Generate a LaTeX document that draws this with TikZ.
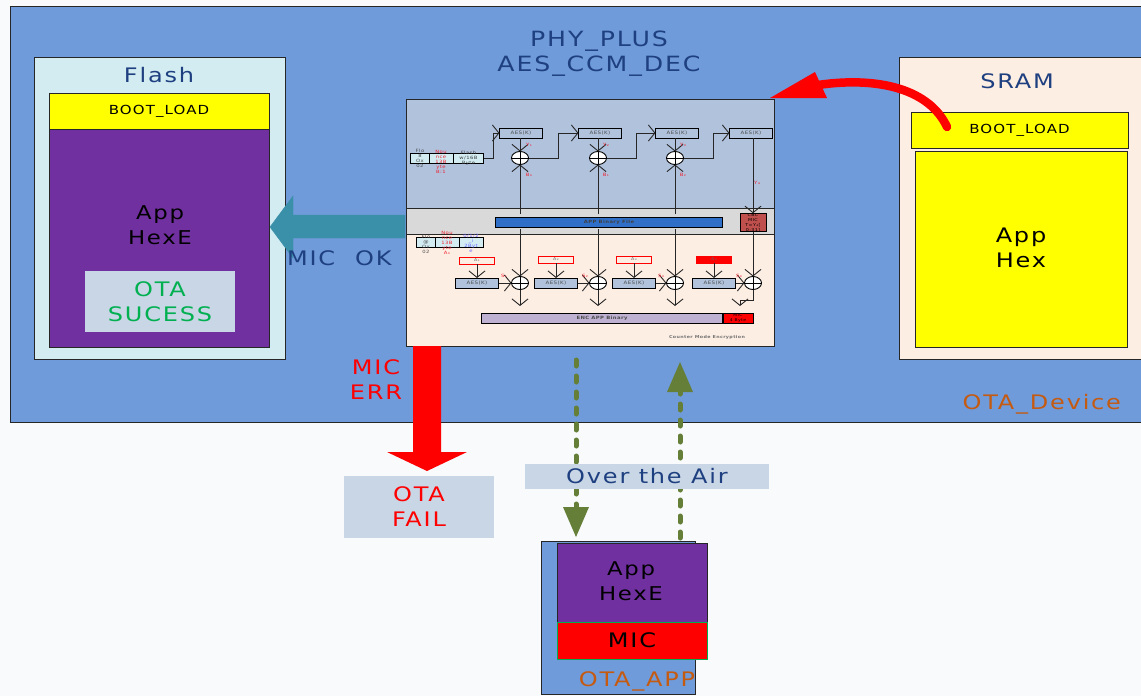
\documentclass[tikz,border=0pt]{standalone}
\usepackage{fontspec}
\setmainfont{DejaVu Sans}[LetterSpace=9,FakeStretch=1.2]
\usetikzlibrary{arrows.meta,positioning,shapes.geometric}
\definecolor{pagebg}{HTML}{F8FAFC}
\definecolor{devblue}{HTML}{6F9BDA}
\definecolor{flashbg}{HTML}{D2ECF2}
\definecolor{sram}{HTML}{FDEEE3}
\definecolor{purp}{HTML}{7030A0}
\definecolor{panel}{HTML}{B0C2DC}
\definecolor{midgrey}{HTML}{D9D9D9}
\definecolor{titleblue}{HTML}{1F4080}
\definecolor{teal}{HTML}{3A90A8}
\definecolor{okgreen}{HTML}{00B050}
\definecolor{softblue}{HTML}{C8D6E6}
\definecolor{orangetxt}{HTML}{C55A11}
\definecolor{armygreen}{HTML}{667F38}
\definecolor{appbar}{HTML}{2F6FC8}
\definecolor{micbox}{HTML}{C0504D}
\definecolor{lilac}{HTML}{BFB1D2}
\definecolor{lightcyan}{HTML}{D2ECF2}
\definecolor{redtxt}{HTML}{F02030}
\definecolor{pureyellow}{HTML}{FFFF00}
\definecolor{purered}{HTML}{FF0000}
\tikzset{
  x=1pt,y=-1pt,
  every node/.style={inner sep=0pt,outer sep=0pt,align=center},
  area/.style n args={4}{draw=black!85,line width=.8pt,fill=#1,minimum width=#2pt,minimum height=#3pt,anchor=north west,font=\fontsize{#4}{#4}\selectfont},
  plain/.style={font=\fontsize{#1}{25}\selectfont},
  aesbox/.style={draw=black,line width=1pt,fill=panel,minimum width=43pt,minimum height=10pt,font=\fontsize{4.6}{4.6}\selectfont,text=black!70},
  xorc/.style={draw=black,line width=.9pt,fill=white,ellipse,minimum width=17pt,minimum height=13pt},
  tiny/.style={font=\fontsize{4.4}{5}\selectfont},
  tinyred/.style={tiny,text=redtxt},
  flow/.style={draw=black!85,line width=.9pt,-{Straight Barb[length=6.5pt,width=16pt,line width=.9pt]}},
  flowline/.style={draw=black,line width=.8pt},
  ctr/.style={draw=purered,line width=.9pt,fill=sram,minimum width=35pt,minimum height=7pt,font=\fontsize{4}{4}\selectfont,text=black!60},
  cell/.style={draw=black,line width=.9pt,fill=lightcyan,minimum height=10pt,font=\fontsize{4}{5}\selectfont},
  dashflow/.style={draw=armygreen,line width=5pt,line cap=round,dash pattern=on 6pt off 10pt},
}
\begin{document}
\begin{tikzpicture}
\useasboundingbox (0,0) rectangle (1141,696);
\fill[pagebg] (0,0) rectangle (1141,696);

% device background
\node[area={devblue}{1131}{416}{10}] (device) at (10,6) {};
\node[plain=20,text=orangetxt,anchor=east] (devlabel) at (1121,404) {OTA\_Device};

% Flash
\node[area={flashbg}{251}{302}{10}] (flash) at (34,57) {};
\node[plain=20,text=titleblue] (flashtitle) at (159,75) {Flash};
\node[area={pureyellow}{220}{36}{12.5}] (fboot) at (49,93) {BOOT\_LOAD};
\node[area={purp}{220}{218}{10}] (fapp) at (49,129) {};
\node[plain=19] (fapptxt) at (160,225) {App\\HexE};
\node[fill=softblue,minimum width=150pt,minimum height=61pt,plain=20,text=okgreen] (otasuc) at (160,301.5) {OTA\\SUCESS};

% SRAM
\node[area={sram}{242}{302}{10}] (sramb) at (899,57) {};
\node[plain=20,text=titleblue] (sramtitle) at (1017,81) {SRAM};
\node[area={pureyellow}{217}{36}{12.5}] (sboot) at (911,112) {BOOT\_LOAD};
\node[area={pureyellow}{212}{196}{10}] (sapp) at (915,151) {};
\node[plain=20] (sapptxt) at (1021,248) {App\\Hex};

% centre title
\node[plain=21,text=titleblue] (phy) at (599,54) {PHY\_PLUS\\AES\_CCM\_DEC};

% centre panels
\node[area={panel}{368}{109}{8}] (ptop) at (406,99) {};
\node[area={midgrey}{368}{26}{8}] (pmid) at (406,208) {};
\node[area={sram}{368}{112}{8}] (pbot) at (406,234) {};

% top row
\node[cell,minimum width=19pt] (c1) at (420,158) {};
\node[cell,minimum width=24pt] (c2) at (441,158) {};
\node[cell,minimum width=30pt] (c3) at (468.5,158) {};
\node[tiny,text=black!70] at (420,158) {Flo\\8\\Ox\\02};
\node[tinyred] at (441,162) {Nou\\nce\\13B\\yte\\B:1};
\node[tiny,text=black!75] at (468.5,158) {Flash\\w/16B\\Byte};

\node[aesbox] (a1) at (521,133) {AES(K)};
\node[aesbox] (a2) at (600,133) {AES(K)};
\node[aesbox] (a3) at (677,133) {AES(K)};
\node[aesbox] (a4) at (751,133) {AES(K)};
\node[xorc] (x1) at (520,158) {};
\node[xorc] (x2) at (598,158) {};
\node[xorc] (x3) at (675,158) {};
\draw[flow] (c3.east) -- ++(10,0) |- (a1.west);
\draw[flow] (x1.east) -- ++(30,0) |- (a2.west);
\draw[flow] (x2.east) -- ++(30,0) |- (a3.west);
\draw[flow] (x3.east) -- ++(30,0) |- (a4.west);
\foreach \i in {1,2,3}{
  \draw[flow] (a\i.south -| x\i) -- (x\i.north);
  \draw[flowline] (x\i.west) -- (x\i.east) (x\i.north) -- (x\i.south);
}
\node[tinyred] at (529,145) {Y₁};
\node[tinyred] at (606,145) {Y₂};
\node[tinyred] at (683,145) {Y₃};
\node[tinyred] at (529,175) {B₀};
\node[tinyred] at (606,175) {B₁};
\node[tinyred] at (683,175) {B₂};
\node[tinyred] at (757,183) {Y₄};

% middle bar
\node[draw=black,line width=1pt,fill=appbar,minimum width=227pt,minimum height=10pt,font=\fontsize{4.4}{4.4}\selectfont\bfseries,text=black!75] (appb) at (609,222) {APP Binary File};
\node[draw=black,line width=1pt,fill=micbox,minimum width=26pt,minimum height=17pt,font=\fontsize{4}{5}\selectfont] (mic1) at (753,222.5) {CBC\\MIC\\T=Y₄[\\0:31]};
\draw[flow] (a4.south -| mic1) -- (mic1.north);

% bottom row
\node[cell,minimum width=19pt] (d1) at (426,242) {};
\node[cell,minimum width=24pt] (d2) at (447,242) {};
\node[cell,minimum width=24pt] (d3) at (471,242) {};
\node[tiny,text=black!70] at (426,244) {Flo\\@\\Ox\\02};
\node[tinyred] at (447,243) {Nou\\nce\\13B\\yte\\A₀};
\node[tiny,text=blue!60] at (471,243) {0/1/2\\\_i\\2Byt\\e};

\node[ctr] (r1) at (477,260.5) {A₁};
\node[ctr] (r2) at (556,259.5) {A₂};
\node[ctr] (r3) at (634,259.5) {A₃};
\node[ctr,fill=purered] (r4) at (714,259.5) {A₄};
\node[aesbox] (b1) at (477,283) {AES(K)};
\node[aesbox] (b2) at (556,283) {AES(K)};
\node[aesbox] (b3) at (634,283) {AES(K)};
\node[aesbox] (b4) at (714,283) {AES(K)};
\node[xorc] (z1) at (520,283) {};
\node[xorc] (z2) at (598,283) {};
\node[xorc] (z3) at (675,283) {};
\node[xorc] (z4) at (753,283) {};
\foreach \i in {1,2,3,4}{
  \draw[flow] (r\i) -- (b\i);
  \draw[flow] (b\i) -- (z\i);
  \draw[flowline] (z\i.west) -- (z\i.east) (z\i.north) -- (z\i.south);
}
\node[tinyred] at (504,276) {S₁};
\node[tinyred] at (585,276) {S₂};
\node[tinyred] at (661,276) {S₃};
\node[tinyred] at (739,276) {S₀};

\node[draw=black,line width=1pt,fill=lilac,minimum width=241pt,minimum height=10pt,font=\fontsize{4.4}{4.4}\selectfont\bfseries,text=black!70] (enc) at (602,318) {ENC APP Binary};
\node[draw=black,line width=1pt,fill=purered,minimum width=30pt,minimum height=10pt,font=\fontsize{3.8}{4.4}\selectfont] (mic2) at (738,318) {MIC\\4 Byte};
\node[font=\fontsize{4}{4}\selectfont\bfseries,text=black!55] (cnt) at (707,337) {Counter Mode Encryption};

% vertical flows through the middle band
\foreach \i/\px in {1/520,2/598,3/675}{
  \coordinate (t\i) at (\px,214);
  \coordinate (m\i) at (\px,229);
  \coordinate (e\i) at (\px,306);
  \draw[flow] (t\i) -- (x\i.south);
  \draw[flow] (m\i) -- (z\i.north);
  \draw[flow] (z\i.south) -- (e\i);
}
\draw[flow] (mic1) -- (z4.north);
\coordinate (ebend) at (740,306);
\draw[flow] (z4.south) -- (753,300) -| (ebend);

% big arrows
\draw[teal,fill=teal,line width=.4pt] (405,215) -- (293,215) -- (293,196) -- (270,227) -- (293,258) -- (293,238) -- (405,238) -- cycle;
\node[plain=20,text=titleblue,anchor=west] (micok) at (287,258) {MIC\quad OK};

\fill[purered] (413,346) -- (441,346) -- (441,452) -- (467,452) -- (427,471) -- (387,452) -- (413,452) -- cycle;
\node[plain=20,text=purered] (micerr) at (376,380) {MIC\\ERR};
\node[fill=softblue,minimum width=150pt,minimum height=62pt,plain=20,text=purered] (fail) at (419,507) {OTA\\FAIL};

\coordinate (rs) at (947,127);
\coordinate (re) at (770,98);
\draw[purered,line width=8.5pt,line cap=round] (rs) .. controls (930,90) and (880,76) .. (818,85);
\fill[purered] (re) -- (815,72) -- (821,85) -- (827,98) -- cycle;

% air arrows
\coordinate (d1s) at (576,360);
\coordinate (d2s) at (680,362);
\draw[dashflow] (d1s) -- (576,508);
\fill[armygreen] (563,507) -- (589,507) -- (576,537) -- cycle;
\draw[dashflow] (680,538) -- (680,390);
\fill[armygreen] (667,392) -- (693,392) -- (d2s) -- cycle;

% Over the air
\node[fill=softblue,minimum width=244pt,minimum height=25pt,plain=20,text=titleblue] (air) at (647,476.5) {Over the Air};

% OTA_APP
\node[area={devblue}{154}{153}{10}] (app) at (541,541) {};
\node[area={purp}{150}{79}{10}] (appe) at (557,543) {};
\node[plain=19] (appetxt) at (631,581.5) {App\\HexE};
\node[draw=okgreen,line width=.8pt,fill=purered,minimum width=150pt,minimum height=37pt,anchor=north west,plain=20] (appm) at (557,622) {MIC};
\node[plain=20,text=orangetxt] (applbl) at (637,681) {OTA\_APP};
\end{tikzpicture}
\end{document}
